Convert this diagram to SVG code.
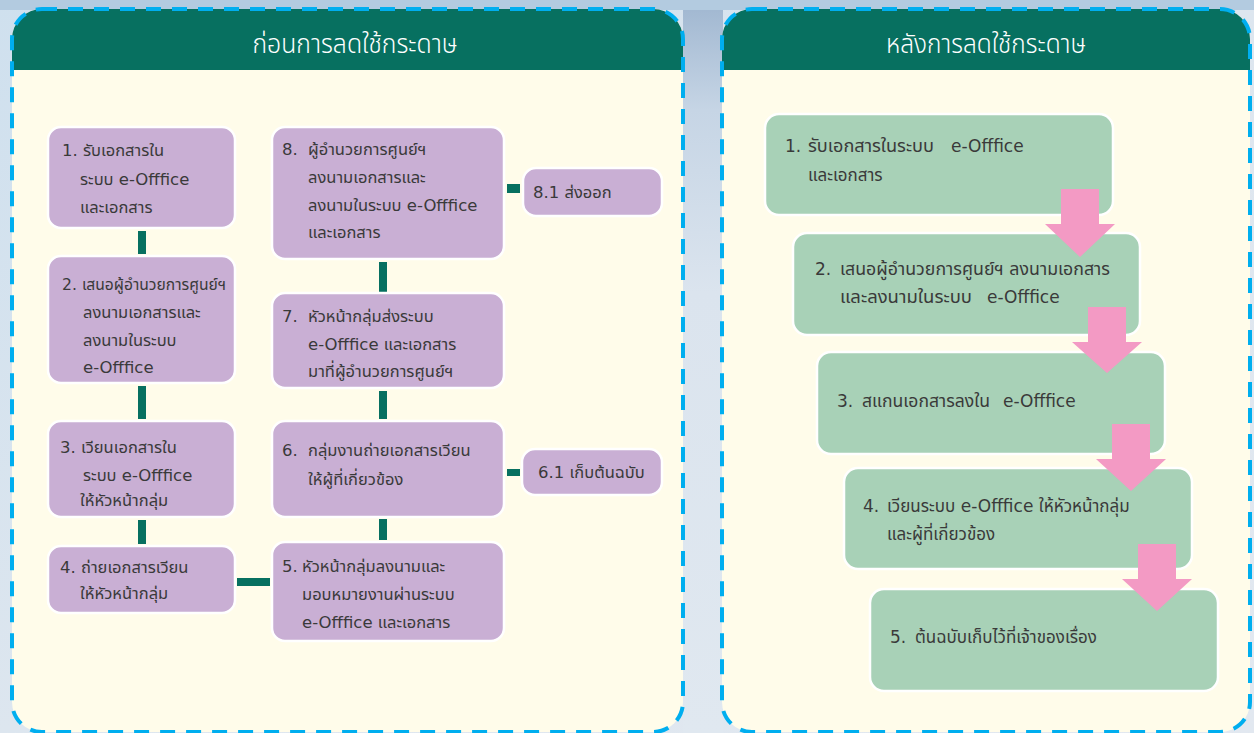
<svg xmlns="http://www.w3.org/2000/svg" width="1254" height="733" viewBox="0 0 1254 733">
  <defs>
    <linearGradient id="bg" x1="0" y1="0" x2="1" y2="1">
      <stop offset="0" stop-color="#cfe0ee"/>
      <stop offset="0.5" stop-color="#dde6ef"/>
      <stop offset="1" stop-color="#e2e8f0"/>
    </linearGradient>
    <linearGradient id="gap" x1="0" y1="0" x2="0" y2="1">
      <stop offset="0" stop-color="#9fb6d0"/>
      <stop offset="0.15" stop-color="#c6d5e5"/>
      <stop offset="0.4" stop-color="#dbe4ee"/>
      <stop offset="1" stop-color="#e0e8f0"/>
    </linearGradient>
    <clipPath id="clipL"><rect x="12" y="9" width="671" height="723" rx="30"/></clipPath>
    <clipPath id="clipR"><rect x="722" y="9" width="528" height="723" rx="30"/></clipPath>
  </defs>
  <style>
    .body { fill: #fffcea; }
    .head { fill: #077060; }
    .border { fill: none; stroke: #00aeef; stroke-width: 4; stroke-dasharray: 15 11; }
    .ttl { font-family: "Noto Sans Thai", "DejaVu Sans", "Noto Sans", sans-serif; font-size: 27px; fill: #ffffff; text-anchor: middle; font-weight: 300; }
    .pbox { fill: #c9afd4; stroke: #ffffff; stroke-width: 2.5; }
    .gbox { fill: #a8d1b7; stroke: #ffffff; stroke-width: 2.5; }
    .t { font-family: "DejaVu Sans", "Noto Sans Thai", "Noto Sans", sans-serif; font-size: 16.5px; fill: #3a3a3a; }
    .tr { font-family: "DejaVu Sans", "Noto Sans Thai", "Noto Sans", sans-serif; font-size: 17px; fill: #3a3a3a; }
    .bar { fill: #077060; }
    .arr { fill: #f39ac4; }
  </style>

  <!-- background -->
  <rect x="0" y="0" width="1254" height="733" fill="url(#bg)"/>
  <rect x="683" y="0" width="40" height="733" fill="url(#gap)"/>
  <rect x="0" y="0" width="1254" height="10" fill="#b3cbe0"/>

  <!-- left panel -->
  <g id="panel-before">
    <rect class="body" x="12" y="9" width="671" height="723" rx="30"/>
    <rect class="head" x="12" y="9" width="671" height="61" clip-path="url(#clipL)"/>
    <rect class="border" x="12" y="9" width="671" height="723" rx="30"/>
    <text class="ttl" x="355" y="53" textLength="205" lengthAdjust="spacingAndGlyphs">ก่อนการลดใช้กระดาษ</text>
  </g>

  <!-- right panel -->
  <g id="panel-after">
    <rect class="body" x="722" y="9" width="528" height="723" rx="30"/>
    <rect class="head" x="722" y="9" width="528" height="61" clip-path="url(#clipR)"/>
    <rect class="border" x="722" y="9" width="528" height="723" rx="30"/>
    <text class="ttl" x="986" y="53" textLength="200" lengthAdjust="spacingAndGlyphs">หลังการลดใช้กระดาษ</text>
  </g>

  <!-- connectors -->
  <g id="connectors">
    <rect class="bar" x="138" y="231" width="8" height="23"/>
    <rect class="bar" x="138" y="386" width="8" height="33"/>
    <rect class="bar" x="138" y="520" width="8" height="24"/>
    <rect class="bar" x="237" y="578" width="33" height="8"/>
    <rect class="bar" x="379" y="519" width="8" height="21"/>
    <rect class="bar" x="379" y="391" width="8" height="28"/>
    <rect class="bar" x="379" y="262" width="8" height="30"/>
    <rect class="bar" x="507" y="469" width="13" height="7"/>
    <rect class="bar" x="507" y="184" width="13" height="9"/>
  </g>

  <!-- left nodes -->
  <g id="b1">
    <rect class="pbox" x="48" y="127" width="187" height="101" rx="13"/>
    <text class="t" x="62" y="156">1. รับเอกสารใน</text>
    <text class="t" x="80" y="185">ระบบ e-Offfice</text>
    <text class="t" x="80" y="213">และเอกสาร</text>
  </g>
  <g id="b2">
    <rect class="pbox" x="48" y="256" width="187" height="127" rx="13"/>
    <text class="t" x="62" y="290" textLength="164" lengthAdjust="spacingAndGlyphs">2. เสนอผู้อำนวยการศูนย์ฯ</text>
    <text class="t" x="83" y="318">ลงนามเอกสารและ</text>
    <text class="t" x="83" y="346">ลงนามในระบบ</text>
    <text class="t" x="83" y="373">e-Offfice</text>
  </g>
  <g id="b3">
    <rect class="pbox" x="48" y="421" width="187" height="96" rx="13"/>
    <text class="t" x="60" y="453">3. เวียนเอกสารใน</text>
    <text class="t" x="83" y="481">ระบบ e-Offfice</text>
    <text class="t" x="80" y="506">ให้หัวหน้ากลุ่ม</text>
  </g>
  <g id="b4">
    <rect class="pbox" x="48" y="546" width="187" height="67" rx="13"/>
    <text class="t" x="60" y="573">4. ถ่ายเอกสารเวียน</text>
    <text class="t" x="80" y="599">ให้หัวหน้ากลุ่ม</text>
  </g>
  <g id="b5">
    <rect class="pbox" x="272" y="542" width="232" height="99" rx="13"/>
    <text class="t" x="282" y="572">5.</text>
    <text class="t" x="302" y="572">หัวหน้ากลุ่มลงนามและ</text>
    <text class="t" x="302" y="600">มอบหมายงานผ่านระบบ</text>
    <text class="t" x="302" y="628">e-Offfice และเอกสาร</text>
  </g>
  <g id="b6">
    <rect class="pbox" x="272" y="421" width="232" height="96" rx="13"/>
    <text class="t" x="282" y="456">6.</text>
    <text class="t" x="308" y="456">กลุ่มงานถ่ายเอกสารเวียน</text>
    <text class="t" x="308" y="485">ให้ผู้ที่เกี่ยวข้อง</text>
  </g>
  <g id="b61">
    <rect class="pbox" x="522" y="449" width="140" height="46" rx="13"/>
    <text class="t" x="538" y="478">6.1 เก็บต้นฉบับ</text>
  </g>
  <g id="b7">
    <rect class="pbox" x="272" y="293" width="232" height="95" rx="13"/>
    <text class="t" x="282" y="322">7.</text>
    <text class="t" x="308" y="322">หัวหน้ากลุ่มส่งระบบ</text>
    <text class="t" x="308" y="350">e-Offfice และเอกสาร</text>
    <text class="t" x="308" y="377">มาที่ผู้อำนวยการศูนย์ฯ</text>
  </g>
  <g id="b8">
    <rect class="pbox" x="272" y="127" width="232" height="132" rx="13"/>
    <text class="t" x="282" y="155">8.</text>
    <text class="t" x="308" y="155">ผู้อำนวยการศูนย์ฯ</text>
    <text class="t" x="308" y="183">ลงนามเอกสารและ</text>
    <text class="t" x="308" y="211">ลงนามในระบบ e-Offfice</text>
    <text class="t" x="308" y="238">และเอกสาร</text>
  </g>
  <g id="b81">
    <rect class="pbox" x="523" y="168" width="139" height="48" rx="13"/>
    <text class="t" x="533" y="198">8.1 ส่งออก</text>
  </g>

  <!-- right nodes -->
  <g id="r1">
    <rect class="gbox" x="765" y="114" width="348" height="101" rx="14"/>
    <text class="tr" x="785" y="152">1.</text>
    <text class="tr" x="808" y="152" textLength="126" lengthAdjust="spacingAndGlyphs">รับเอกสารในระบบ</text>
    <text class="tr" x="951" y="152">e-Offfice</text>
    <text class="tr" x="808" y="181">และเอกสาร</text>
  </g>
  <g id="r2">
    <rect class="gbox" x="793" y="233" width="347" height="102" rx="14"/>
    <text class="tr" x="815" y="275">2.</text>
    <text class="tr" x="840" y="275" textLength="270" lengthAdjust="spacingAndGlyphs">เสนอผู้อำนวยการศูนย์ฯ ลงนามเอกสาร</text>
    <text class="tr" x="840" y="303" textLength="132" lengthAdjust="spacingAndGlyphs">และลงนามในระบบ</text>
    <text class="tr" x="987" y="303">e-Offfice</text>
  </g>
  <g id="r3">
    <rect class="gbox" x="817" y="352" width="348" height="102" rx="14"/>
    <text class="tr" x="837" y="407">3.</text>
    <text class="tr" x="862" y="407" textLength="128" lengthAdjust="spacingAndGlyphs">สแกนเอกสารลงใน</text>
    <text class="tr" x="1003" y="407">e-Offfice</text>
  </g>
  <g id="r4">
    <rect class="gbox" x="844" y="468" width="348" height="101" rx="14"/>
    <text class="tr" x="863" y="512">4.</text>
    <text class="tr" x="887" y="512">เวียนระบบ e-Offfice ให้หัวหน้ากลุ่ม</text>
    <text class="tr" x="887" y="540">และผู้ที่เกี่ยวข้อง</text>
  </g>
  <g id="r5">
    <rect class="gbox" x="870" y="589" width="348" height="102" rx="14"/>
    <text class="tr" x="890" y="643">5.</text>
    <text class="tr" x="915" y="643">ต้นฉบับเก็บไว้ที่เจ้าของเรื่อง</text>
  </g>

  <!-- arrows (right panel flow) -->
  <g id="flow-arrows">
    <polygon class="arr" points="1061,189 1099,189 1099,224 1115,224 1080,257 1045,224 1061,224"/>
    <polygon class="arr" points="1088,307 1126,307 1126,342 1142,342 1107,373 1072,342 1088,342"/>
    <polygon class="arr" points="1112,424 1150,424 1150,459 1166,459 1131,491 1096,459 1112,459"/>
    <polygon class="arr" points="1138,544 1176,544 1176,579 1192,579 1157,611 1122,579 1138,579"/>
  </g>
</svg>
